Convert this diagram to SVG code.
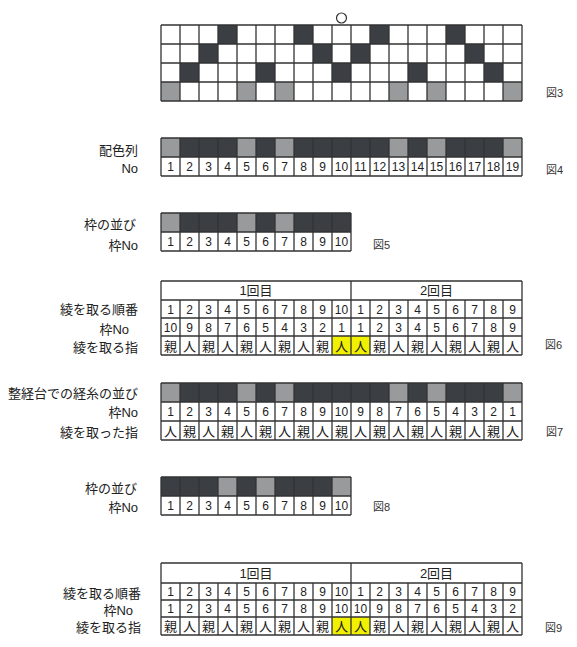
<svg xmlns="http://www.w3.org/2000/svg" width="577" height="647" viewBox="0 0 577 647">
<style>
.bg{fill:#fff}
.d{fill:#3b3e43}
.g{fill:#999a9c}
.y{fill:#f0f000}
.ln{fill:none;stroke:#333;stroke-width:1.3}
.t{font-family:"Liberation Sans","Noto Sans CJK JP",sans-serif;font-size:12px;fill:#222;text-anchor:middle}
.k{font-family:"Noto Sans CJK JP",sans-serif;font-size:13px;fill:#222;text-anchor:middle}
.lb{font-family:"Liberation Sans","Noto Sans CJK JP",sans-serif;font-size:13px;fill:#222;text-anchor:end}
.fg{font-family:"Liberation Sans","Noto Sans CJK JP",sans-serif;font-size:11px;fill:#333}
</style>
<rect width="577" height="647" fill="#fff"/>

<g id="fig3">
<circle cx="341.5" cy="18" r="5" fill="#fff" stroke="#333" stroke-width="1.2"/>
<rect class="bg" x="161" y="25" width="361" height="76"/>
<rect class="d" x="218" y="25" width="19" height="19"/>
<rect class="d" x="294" y="25" width="19" height="19"/>
<rect class="d" x="370" y="25" width="19" height="19"/>
<rect class="d" x="446" y="25" width="19" height="19"/>
<rect class="d" x="199" y="44" width="19" height="19"/>
<rect class="d" x="313" y="44" width="19" height="19"/>
<rect class="d" x="351" y="44" width="19" height="19"/>
<rect class="d" x="465" y="44" width="19" height="19"/>
<rect class="d" x="180" y="63" width="19" height="19"/>
<rect class="d" x="256" y="63" width="19" height="19"/>
<rect class="d" x="332" y="63" width="19" height="19"/>
<rect class="d" x="408" y="63" width="19" height="19"/>
<rect class="d" x="484" y="63" width="19" height="19"/>
<rect class="g" x="161" y="82" width="19" height="19"/>
<rect class="g" x="237" y="82" width="19" height="19"/>
<rect class="g" x="275" y="82" width="19" height="19"/>
<rect class="g" x="389" y="82" width="19" height="19"/>
<rect class="g" x="427" y="82" width="19" height="19"/>
<rect class="g" x="503" y="82" width="19" height="19"/>
<path class="ln" d="M161 25H522M161 44H522M161 63H522M161 82H522M161 101H522M161 25V101M180 25V101M199 25V101M218 25V101M237 25V101M256 25V101M275 25V101M294 25V101M313 25V101M332 25V101M351 25V101M370 25V101M389 25V101M408 25V101M427 25V101M446 25V101M465 25V101M484 25V101M503 25V101M522 25V101"/>
<text class="fg" x="546" y="97">図3</text>
</g>

<g id="fig4">
<text class="lb" x="138" y="155">配色列</text>
<text class="lb" x="138" y="173">No</text>
<rect class="d" x="161" y="138" width="361" height="19"/>
<rect class="bg" x="161" y="157" width="361" height="19"/>
<rect class="g" x="161" y="138" width="19" height="19"/>
<rect class="g" x="237" y="138" width="19" height="19"/>
<rect class="g" x="275" y="138" width="19" height="19"/>
<rect class="g" x="389" y="138" width="19" height="19"/>
<rect class="g" x="427" y="138" width="19" height="19"/>
<rect class="g" x="503" y="138" width="19" height="19"/>
<path class="ln" d="M161 138H522M161 157H522M161 176H522M161 138V176M180 138V176M199 138V176M218 138V176M237 138V176M256 138V176M275 138V176M294 138V176M313 138V176M332 138V176M351 138V176M370 138V176M389 138V176M408 138V176M427 138V176M446 138V176M465 138V176M484 138V176M503 138V176M522 138V176"/>
<g class="t">
<text x="170.5" y="171">1</text><text x="189.5" y="171">2</text><text x="208.5" y="171">3</text><text x="227.5" y="171">4</text><text x="246.5" y="171">5</text><text x="265.5" y="171">6</text><text x="284.5" y="171">7</text><text x="303.5" y="171">8</text><text x="322.5" y="171">9</text><text x="341.5" y="171">10</text><text x="360.5" y="171">11</text><text x="379.5" y="171">12</text><text x="398.5" y="171">13</text><text x="417.5" y="171">14</text><text x="436.5" y="171">15</text><text x="455.5" y="171">16</text><text x="474.5" y="171">17</text><text x="493.5" y="171">18</text><text x="512.5" y="171">19</text>
</g>
<text class="fg" x="546" y="174">図4</text>
</g>

<g id="fig5">
<text class="lb" x="136" y="229">枠の並び</text>
<text class="lb" x="138" y="250">枠No</text>
<rect class="d" x="161" y="213" width="190" height="19"/>
<rect class="bg" x="161" y="232" width="190" height="19"/>
<rect class="g" x="161" y="213" width="19" height="19"/>
<rect class="g" x="237" y="213" width="19" height="19"/>
<rect class="g" x="275" y="213" width="19" height="19"/>
<path class="ln" d="M161 213H351M161 232H351M161 251H351M161 213V251M180 213V251M199 213V251M218 213V251M237 213V251M256 213V251M275 213V251M294 213V251M313 213V251M332 213V251M351 213V251"/>
<g class="t">
<text x="170.5" y="246">1</text><text x="189.5" y="246">2</text><text x="208.5" y="246">3</text><text x="227.5" y="246">4</text><text x="246.5" y="246">5</text><text x="265.5" y="246">6</text><text x="284.5" y="246">7</text><text x="303.5" y="246">8</text><text x="322.5" y="246">9</text><text x="341.5" y="246">10</text>
</g>
<text class="fg" x="373" y="249">図5</text>
</g>

<g id="fig6">
<text class="lb" x="138" y="314">綾を取る順番</text>
<text class="lb" x="129" y="334">枠No</text>
<text class="lb" x="138" y="352">綾を取る指</text>
<rect class="bg" x="161" y="281" width="361" height="74"/>
<rect class="y" x="332" y="336" width="38" height="19"/>
<path class="ln" d="M161 281H522M161 300H522M161 318H522M161 336H522M161 355H522M161 281V355M351 281V355M522 281V355M180 300V355M199 300V355M218 300V355M237 300V355M256 300V355M275 300V355M294 300V355M313 300V355M332 300V355M370 300V355M389 300V355M408 300V355M427 300V355M446 300V355M465 300V355M484 300V355M503 300V355"/>
<text class="t" x="256" y="295" style="font-size:13px">1回目</text>
<text class="t" x="436.5" y="295" style="font-size:13px">2回目</text>
<g class="t">
<text x="170.5" y="313.5">1</text><text x="189.5" y="313.5">2</text><text x="208.5" y="313.5">3</text><text x="227.5" y="313.5">4</text><text x="246.5" y="313.5">5</text><text x="265.5" y="313.5">6</text><text x="284.5" y="313.5">7</text><text x="303.5" y="313.5">8</text><text x="322.5" y="313.5">9</text><text x="341.5" y="313.5">10</text><text x="360.5" y="313.5">1</text><text x="379.5" y="313.5">2</text><text x="398.5" y="313.5">3</text><text x="417.5" y="313.5">4</text><text x="436.5" y="313.5">5</text><text x="455.5" y="313.5">6</text><text x="474.5" y="313.5">7</text><text x="493.5" y="313.5">8</text><text x="512.5" y="313.5">9</text>
<text x="170.5" y="331.5">10</text><text x="189.5" y="331.5">9</text><text x="208.5" y="331.5">8</text><text x="227.5" y="331.5">7</text><text x="246.5" y="331.5">6</text><text x="265.5" y="331.5">5</text><text x="284.5" y="331.5">4</text><text x="303.5" y="331.5">3</text><text x="322.5" y="331.5">2</text><text x="341.5" y="331.5">1</text><text x="360.5" y="331.5">1</text><text x="379.5" y="331.5">2</text><text x="398.5" y="331.5">3</text><text x="417.5" y="331.5">4</text><text x="436.5" y="331.5">5</text><text x="455.5" y="331.5">6</text><text x="474.5" y="331.5">7</text><text x="493.5" y="331.5">8</text><text x="512.5" y="331.5">9</text>
</g>
<g class="k">
<text x="170.5" y="350.5">親</text><text x="189.5" y="350.5">人</text><text x="208.5" y="350.5">親</text><text x="227.5" y="350.5">人</text><text x="246.5" y="350.5">親</text><text x="265.5" y="350.5">人</text><text x="284.5" y="350.5">親</text><text x="303.5" y="350.5">人</text><text x="322.5" y="350.5">親</text><text x="341.5" y="350.5">人</text><text x="360.5" y="350.5">人</text><text x="379.5" y="350.5">親</text><text x="398.5" y="350.5">人</text><text x="417.5" y="350.5">親</text><text x="436.5" y="350.5">人</text><text x="455.5" y="350.5">親</text><text x="474.5" y="350.5">人</text><text x="493.5" y="350.5">親</text><text x="512.5" y="350.5">人</text>
</g>
<text class="fg" x="545" y="349">図6</text>
</g>

<g id="fig7">
<text class="lb" x="138" y="398">整経台での経糸の並び</text>
<text class="lb" x="138" y="417">枠No</text>
<text class="lb" x="138" y="437">綾を取った指</text>
<rect class="d" x="161" y="383" width="361" height="19"/>
<rect class="bg" x="161" y="402" width="361" height="38"/>
<rect class="g" x="161" y="383" width="19" height="19"/>
<rect class="g" x="237" y="383" width="19" height="19"/>
<rect class="g" x="275" y="383" width="19" height="19"/>
<rect class="g" x="389" y="383" width="19" height="19"/>
<rect class="g" x="427" y="383" width="19" height="19"/>
<rect class="g" x="503" y="383" width="19" height="19"/>
<path class="ln" d="M161 383H522M161 402H522M161 421H522M161 440H522M161 383V440M180 383V440M199 383V440M218 383V440M237 383V440M256 383V440M275 383V440M294 383V440M313 383V440M332 383V440M351 383V440M370 383V440M389 383V440M408 383V440M427 383V440M446 383V440M465 383V440M484 383V440M503 383V440M522 383V440"/>
<g class="t">
<text x="170.5" y="416">1</text><text x="189.5" y="416">2</text><text x="208.5" y="416">3</text><text x="227.5" y="416">4</text><text x="246.5" y="416">5</text><text x="265.5" y="416">6</text><text x="284.5" y="416">7</text><text x="303.5" y="416">8</text><text x="322.5" y="416">9</text><text x="341.5" y="416">10</text><text x="360.5" y="416">9</text><text x="379.5" y="416">8</text><text x="398.5" y="416">7</text><text x="417.5" y="416">6</text><text x="436.5" y="416">5</text><text x="455.5" y="416">4</text><text x="474.5" y="416">3</text><text x="493.5" y="416">2</text><text x="512.5" y="416">1</text>
</g>
<g class="k">
<text x="170.5" y="435.5">人</text><text x="189.5" y="435.5">親</text><text x="208.5" y="435.5">人</text><text x="227.5" y="435.5">親</text><text x="246.5" y="435.5">人</text><text x="265.5" y="435.5">親</text><text x="284.5" y="435.5">人</text><text x="303.5" y="435.5">親</text><text x="322.5" y="435.5">人</text><text x="341.5" y="435.5">親</text><text x="360.5" y="435.5">人</text><text x="379.5" y="435.5">親</text><text x="398.5" y="435.5">人</text><text x="417.5" y="435.5">親</text><text x="436.5" y="435.5">人</text><text x="455.5" y="435.5">親</text><text x="474.5" y="435.5">人</text><text x="493.5" y="435.5">親</text><text x="512.5" y="435.5">人</text>
</g>
<text class="fg" x="546" y="436">図7</text>
</g>

<g id="fig8">
<text class="lb" x="137" y="493">枠の並び</text>
<text class="lb" x="138" y="512">枠No</text>
<rect class="d" x="161" y="477" width="190" height="19"/>
<rect class="bg" x="161" y="496" width="190" height="19"/>
<rect class="g" x="218" y="477" width="19" height="19"/>
<rect class="g" x="256" y="477" width="19" height="19"/>
<rect class="g" x="332" y="477" width="19" height="19"/>
<path class="ln" d="M161 477H351M161 496H351M161 515H351M161 477V515M180 477V515M199 477V515M218 477V515M237 477V515M256 477V515M275 477V515M294 477V515M313 477V515M332 477V515M351 477V515"/>
<g class="t">
<text x="170.5" y="510">1</text><text x="189.5" y="510">2</text><text x="208.5" y="510">3</text><text x="227.5" y="510">4</text><text x="246.5" y="510">5</text><text x="265.5" y="510">6</text><text x="284.5" y="510">7</text><text x="303.5" y="510">8</text><text x="322.5" y="510">9</text><text x="341.5" y="510">10</text>
</g>
<text class="fg" x="373" y="511">図8</text>
</g>

<g id="fig9">
<text class="lb" x="141" y="598">綾を取る順番</text>
<text class="lb" x="133" y="615">枠No</text>
<text class="lb" x="141" y="632">綾を取る指</text>
<rect class="bg" x="161" y="563" width="361" height="72"/>
<rect class="y" x="332" y="617" width="38" height="18"/>
<path class="ln" d="M161 563H522M161 583H522M161 600H522M161 617H522M161 635H522M161 563V635M351 563V635M522 563V635M180 583V635M199 583V635M218 583V635M237 583V635M256 583V635M275 583V635M294 583V635M313 583V635M332 583V635M370 583V635M389 583V635M408 583V635M427 583V635M446 583V635M465 583V635M484 583V635M503 583V635"/>
<text class="t" x="256" y="577.5" style="font-size:13px">1回目</text>
<text class="t" x="436.5" y="577.5" style="font-size:13px">2回目</text>
<g class="t">
<text x="170.5" y="596">1</text><text x="189.5" y="596">2</text><text x="208.5" y="596">3</text><text x="227.5" y="596">4</text><text x="246.5" y="596">5</text><text x="265.5" y="596">6</text><text x="284.5" y="596">7</text><text x="303.5" y="596">8</text><text x="322.5" y="596">9</text><text x="341.5" y="596">10</text><text x="360.5" y="596">1</text><text x="379.5" y="596">2</text><text x="398.5" y="596">3</text><text x="417.5" y="596">4</text><text x="436.5" y="596">5</text><text x="455.5" y="596">6</text><text x="474.5" y="596">7</text><text x="493.5" y="596">8</text><text x="512.5" y="596">9</text>
<text x="170.5" y="613">1</text><text x="189.5" y="613">2</text><text x="208.5" y="613">3</text><text x="227.5" y="613">4</text><text x="246.5" y="613">5</text><text x="265.5" y="613">6</text><text x="284.5" y="613">7</text><text x="303.5" y="613">8</text><text x="322.5" y="613">9</text><text x="341.5" y="613">10</text><text x="360.5" y="613">10</text><text x="379.5" y="613">9</text><text x="398.5" y="613">8</text><text x="417.5" y="613">7</text><text x="436.5" y="613">6</text><text x="455.5" y="613">5</text><text x="474.5" y="613">4</text><text x="493.5" y="613">3</text><text x="512.5" y="613">2</text>
</g>
<g class="k">
<text x="170.5" y="631">親</text><text x="189.5" y="631">人</text><text x="208.5" y="631">親</text><text x="227.5" y="631">人</text><text x="246.5" y="631">親</text><text x="265.5" y="631">人</text><text x="284.5" y="631">親</text><text x="303.5" y="631">人</text><text x="322.5" y="631">親</text><text x="341.5" y="631">人</text><text x="360.5" y="631">人</text><text x="379.5" y="631">親</text><text x="398.5" y="631">人</text><text x="417.5" y="631">親</text><text x="436.5" y="631">人</text><text x="455.5" y="631">親</text><text x="474.5" y="631">人</text><text x="493.5" y="631">親</text><text x="512.5" y="631">人</text>
</g>
<text class="fg" x="545" y="632">図9</text>
</g>
</svg>
